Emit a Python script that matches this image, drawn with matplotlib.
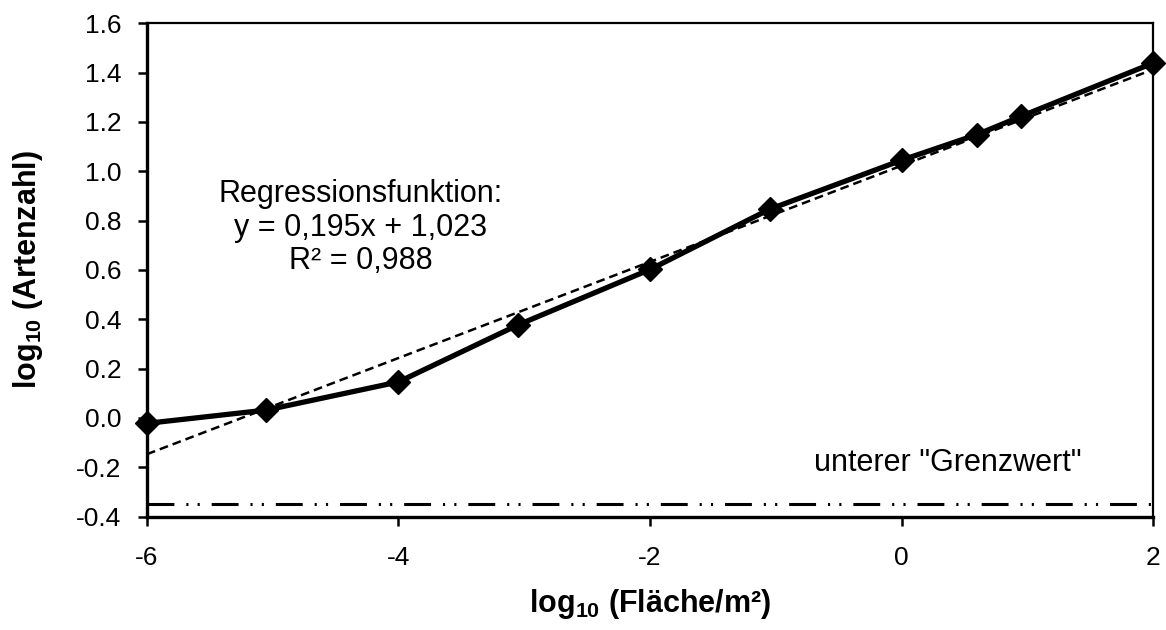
import matplotlib
matplotlib.use("Agg")
import matplotlib.pyplot as plt
import numpy as np

plt.rcParams["font.family"] = ["Liberation Sans", "DejaVu Sans"]
plt.rcParams["mathtext.fontset"] = "custom"
plt.rcParams["mathtext.rm"] = "Liberation Sans"
plt.rcParams["mathtext.bf"] = "Liberation Sans:bold"
plt.rcParams["axes.unicode_minus"] = False

# log10 area and log10 species count
log_area = [-6, -5.05, -4, -3.05, -2, -1.05, 0, 0.6, 0.95, 2]
log_species = [-0.022, 0.032, 0.146, 0.377, 0.602, 0.846, 1.045, 1.149, 1.223, 1.439]

# regression given in the chart
slope = 0.195
intercept = 1.023
limit_value = -0.35


def main():
    fig = plt.figure(figsize=(11.66, 6.3), dpi=100)
    ax = fig.add_axes([0.126, 0.180, 0.863, 0.783])

    fit_x = np.array([-6, 2])
    ax.plot(fit_x, slope * fit_x + intercept, color="black", lw=1.8,
            linestyle=(0, (3.5, 2)), zorder=3)
    ax.plot(log_area, log_species, color="black", lw=3.8, marker="D",
            markersize=12, zorder=4, clip_on=False)
    ax.axhline(limit_value, color="black", lw=2.2,
               linestyle=(0, (8.8, 3.9, 0.7, 3.0, 0.7, 3.9)), zorder=2)

    ax.set_xlim(-6, 2)
    ax.set_ylim(-0.4, 1.6)
    ax.set_xticks([-6, -4, -2, 0, 2])
    ax.set_yticks(np.arange(-0.4, 1.61, 0.2))
    ax.set_yticklabels([f"{v:.1f}" for v in np.arange(-0.4, 1.61, 0.2)])
    ax.tick_params(direction="out", length=6.5, width=1.8, labelsize=19)
    ax.tick_params(axis="y", pad=12)
    ax.tick_params(axis="x", pad=15)

    for side in ["left", "bottom"]:
        ax.spines[side].set_linewidth(2.4)
    for side in ["top", "right"]:
        ax.spines[side].set_linewidth(1.6)

    ax.set_xlabel(r"log$_\mathbf{10}$ (Fläche/m²)", fontsize=22,
                  fontweight="bold", labelpad=12)
    ax.set_ylabel(r"log$_\mathbf{10}$ (Artenzahl)", fontsize=22,
                  fontweight="bold", labelpad=22)

    ax.text(-4.3, 0.772, "Regressionsfunktion:\ny = 0,195x + 1,023\nR² = 0,988",
            fontsize=22, ha="center", va="center", linespacing=1.15)
    ax.text(0.37, -0.183, 'unterer "Grenzwert"', fontsize=22,
            ha="center", va="center")

    fig.savefig("out.png", dpi=100)


if __name__ == "__main__":
    main()
